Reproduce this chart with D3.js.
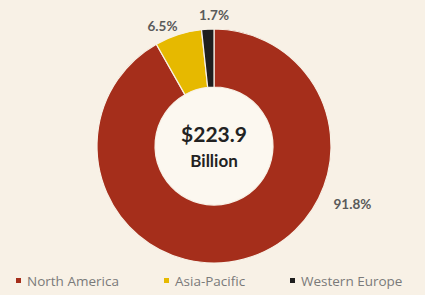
<!DOCTYPE html>
<html>
<head>
<meta charset="utf-8">
<script src="https://cdn.jsdelivr.net/npm/d3@7"></script>
<style>
  body { margin: 0; background: #f8f1e6; }
  svg { display: block; }
</style>
</head>
<body>
<script>
// Share of revenue by region
const regions = ['North America', 'Asia-Pacific', 'Western Europe'];
const shares = [91.8, 6.5, 1.7];
const colors = ['#a52e1b', '#e6b900', '#1e1e1e'];
const centerLines = ['$223.9', 'Billion'];

const WIDTH = 425, HEIGHT = 295;
const CX = 214, CY = 146;
const OUTER = 117, INNER = 59;

const svg = d3.select('body')
              .append('svg')
                .attr('width', WIDTH)
                .attr('height', HEIGHT);

svg.append('rect')
     .attr('width', WIDTH)
     .attr('height', HEIGHT)
     .attr('fill', '#f8f1e6');

const data = regions.map((r, i) => ({region: r, value: shares[i], color: colors[i]}));

const pie = d3.pie().sort(null).value(d => d.value);
const arc = d3.arc().innerRadius(INNER).outerRadius(OUTER);
const slices = pie(data);

const chart = svg.append('g').attr('transform', 'translate(' + CX + ',' + CY + ')');

chart.selectAll('path.slice')
       .data(slices)
       .enter()
       .append('path')
         .attr('class', 'slice')
         .attr('d', arc)
         .attr('fill', d => d.data.color)
         .attr('stroke', '#f8f1e6')
         .attr('stroke-width', 1.2);

// inner hole is a touch lighter than the page
chart.append('circle')
       .attr('r', INNER - 0.5)
       .attr('fill', '#fcf8f0');

chart.selectAll('text.center')
       .data(centerLines)
       .enter()
       .append('text')
         .attr('class', 'center')
         .attr('text-anchor', 'middle')
         .attr('font-family', 'Lato, sans-serif')
         .attr('font-weight', 'bold')
         .attr('fill', '#222')
         .attr('font-size', (d, i) => i == 0 ? '21px' : '17px')
         .attr('y', (d, i) => i == 0 ? -4 : 21)
         .text(d => d);

// Label placement: big slice label sits to the right, small ones above
function labelPos(d, i) {
  if (i == 0) {
    const a = 116 * Math.PI / 180, r = 133;
    return {x: r * Math.sin(a), y: -r * Math.cos(a), anchor: 'start'};
  }
  const mid = (d.startAngle + d.endAngle) / 2;
  const r = i == 1 ? 126 : 131;
  return {
    x: r * Math.sin(mid) + (i == 2 ? 7 : 2),
    y: -r * Math.cos(mid),
    anchor: i == 1 ? 'end' : 'middle'
  };
}

chart.selectAll('text.pct')
       .data(slices)
       .enter()
       .append('text')
         .attr('class', 'pct')
         .attr('font-family', 'Lato, sans-serif')
         .attr('font-weight', 'bold')
         .attr('font-size', '13.5px')
         .attr('fill', '#5a5a5a')
         .attr('dy', '0.35em')
         .attr('x', (d, i) => labelPos(d, i).x)
         .attr('y', (d, i) => labelPos(d, i).y)
         .attr('text-anchor', (d, i) => labelPos(d, i).anchor)
         .text(d => d.value.toFixed(1) + '%');

// Legend
const legendX = d3.scaleOrdinal().domain(regions).range([16, 164, 290]);
const legend = svg.selectAll('g.legend')
                    .data(data)
                    .enter()
                    .append('g')
                      .attr('class', 'legend')
                      .attr('transform', d => 'translate(' + legendX(d.region) + ',281)');

legend.append('rect')
        .attr('x', 0)
        .attr('y', -3)
        .attr('width', 5)
        .attr('height', 5)
        .attr('fill', d => d.color);

legend.append('text')
        .attr('x', 11)
        .attr('dy', '0.35em')
        .attr('font-family', '"Open Sans", sans-serif')
        .attr('font-size', '13.5px')
        .attr('fill', '#7a7a7a')
        .text(d => d.region);
</script>
</body>
</html>
